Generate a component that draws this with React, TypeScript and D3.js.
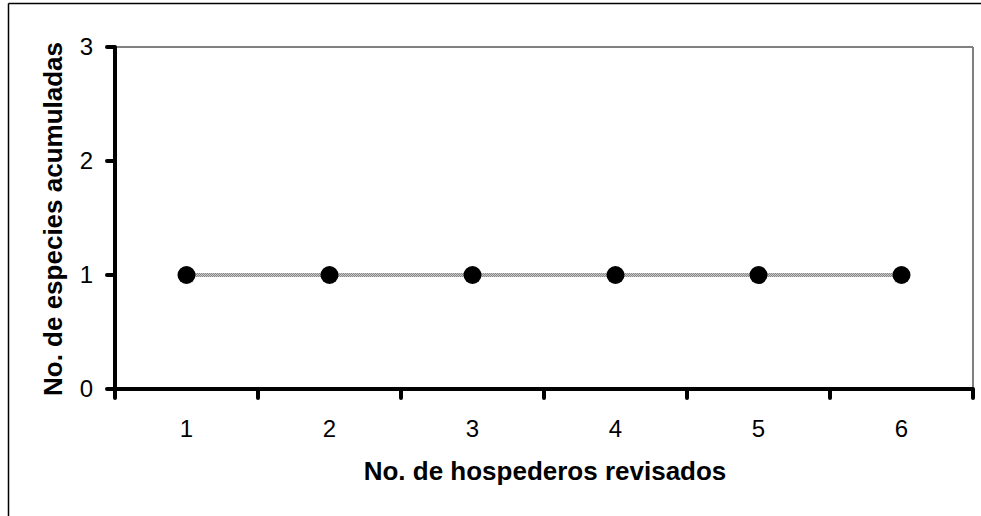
import React from "react";
import * as d3 from "d3";

const categories = ["1", "2", "3", "4", "5", "6"];
const values = [1, 1, 1, 1, 1, 1];
const yTicks = [0, 1, 2, 3];
const xTitle = "No. de hospederos revisados";
const yTitle = "No. de especies acumuladas";

export default function App() {
  const W = 981, H = 516;
  const left = 115, right = 973, top = 47, bottom = 389;
  const x = d3.scaleBand().domain(categories).range([left, right]).padding(0);
  const y = d3.scaleLinear().domain([0, 3]).range([bottom, top]);
  const cx = (c: string) => (x(c) as number) + x.bandwidth() / 2;
  const line = d3.line<number>().x((_, i) => cx(categories[i])).y((d) => y(d));
  const font = "Liberation Sans, Arial, sans-serif";
  const bounds = [...categories.map((c) => x(c) as number), right];

  return (
    <div style={{ position: "fixed", left: 0, top: 0 }}>
      <svg width={W} height={H} style={{ display: "block", background: "#fff" }}>
        <defs>
          <pattern id="dots" width="2" height="2" patternUnits="userSpaceOnUse">
            <rect width="2" height="2" fill="#c8c8c8" />
            <rect width="1" height="1" fill="#8a8a8a" />
            <rect x="1" y="1" width="1" height="1" fill="#8a8a8a" />
          </pattern>
        </defs>
        {/* outer frame */}
        <line x1={8.5} y1={3.5} x2={W} y2={3.5} stroke="#000" strokeWidth={1.5} />
        <line x1={8.5} y1={3.5} x2={8.5} y2={H} stroke="#000" strokeWidth={1.5} />
        {/* plot area border (gray) */}
        <line x1={left} y1={top} x2={right} y2={top} stroke="#808080" strokeWidth={2} />
        <line x1={right} y1={top} x2={right} y2={bottom} stroke="#808080" strokeWidth={2} />
        {/* series line */}
        <path d={line(values) || ""} fill="none" stroke="url(#dots)" strokeWidth={4} />
        {values.map((v, i) => (
          <circle key={i} cx={cx(categories[i])} cy={y(v)} r={9} fill="#000" />
        ))}
        {/* axes */}
        <line x1={left} y1={top} x2={left} y2={bottom} stroke="#000" strokeWidth={4} />
        <line x1={left} y1={bottom} x2={right} y2={bottom} stroke="#000" strokeWidth={4} />
        {yTicks.map((t) => (
          <g key={t}>
            <line x1={left - 8} y1={y(t)} x2={left} y2={y(t)} stroke="#000" strokeWidth={4} strokeLinecap="round" />
            <text x={93} y={y(t)} dy="0.33em" textAnchor="end" fontFamily={font} fontSize={24} fill="#000">{t}</text>
          </g>
        ))}
        {bounds.map((b, i) => (
          <line key={i} x1={b} y1={bottom} x2={b} y2={bottom + 9} stroke="#000" strokeWidth={4} strokeLinecap="round" />
        ))}
        {categories.map((c) => (
          <text key={c} x={cx(c)} y={437} textAnchor="middle" fontFamily={font} fontSize={24} fill="#000">{c}</text>
        ))}
        <text x={545} y={480} textAnchor="middle" fontFamily={font} fontSize={26} fontWeight="bold" fill="#000">{xTitle}</text>
        <text transform={`translate(62,219) rotate(-90)`} textAnchor="middle" fontFamily={font} fontSize={26} fontWeight="bold" fill="#000">{yTitle}</text>
      </svg>
    </div>
  );
}
